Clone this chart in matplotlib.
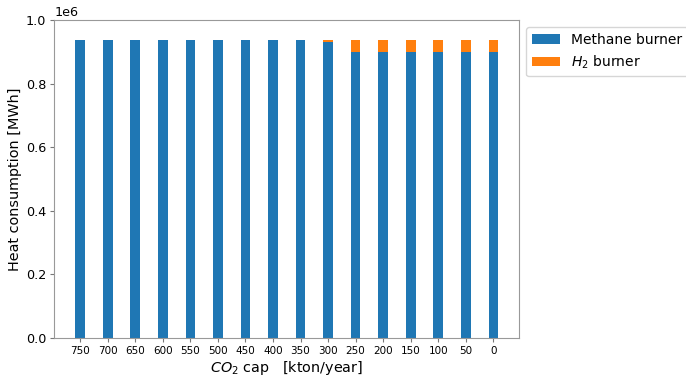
import numpy as np
import matplotlib.pyplot as plt

# CO2 cap scenarios [kton/year] and heat supplied by each burner [MWh]
caps = [750, 700, 650, 600, 550, 500, 450, 400, 350, 300, 250, 200, 150, 100, 50, 0]
methane = [936000, 936000, 936000, 936000, 936000, 936000, 936000, 936000, 936000,
           931000, 899000, 899000, 899000, 899000, 899000, 899000]
hydrogen = [0, 0, 0, 0, 0, 0, 0, 0, 0,
            5000, 37000, 37000, 37000, 37000, 37000, 37000]


def main():
    fig, ax = plt.subplots(figsize=(6.86, 3.78), dpi=100)
    x = np.arange(len(caps))
    w = 0.35

    ax.bar(x, methane, w, color='#1f77b4', label='Methane burner')
    ax.bar(x, hydrogen, w, bottom=methane, color='#ff7f0e', label='$H_2$ burner')

    ax.set_xticks(x)
    ax.set_xticklabels([str(c) for c in caps], fontsize=7.5)
    ax.tick_params(axis='both', length=2.8, pad=2.8, color='#777777')
    ax.tick_params(axis='y', labelsize=9.2)
    ax.set_ylim(0, 1.0e6)
    ax.yaxis.get_offset_text().set_fontsize(9.2)

    ax.set_xlabel('$CO_2$ cap   [kton/year]', fontsize=10.4, labelpad=2.5)
    ax.set_ylabel('Heat consumption [MWh]', fontsize=10.4, labelpad=3)

    for s in ax.spines.values():
        s.set_color('#999999')

    ax.legend(loc='upper left', bbox_to_anchor=(1.0, 1.0), fontsize=10)

    fig.subplots_adjust(left=0.079, right=0.757, top=0.947, bottom=0.106)
    fig.savefig('out.png', dpi=100)


if __name__ == "__main__":
    main()
